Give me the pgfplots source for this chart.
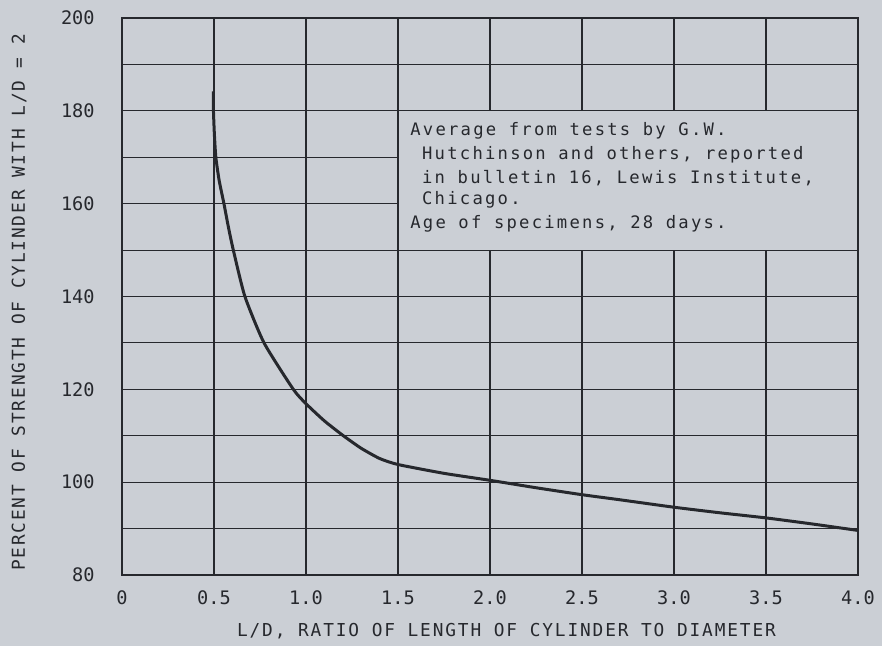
\documentclass[border=0pt]{standalone}
\usepackage{fontspec}
\setmainfont{DejaVu Sans Mono}
\newfontfamily\tickfont{DejaVu Sans Mono}
\newfontfamily\labfont[LetterSpace=10.5]{DejaVu Sans Mono}
\newfontfamily\boxfont[LetterSpace=13]{DejaVu Sans Mono}
\usepackage{pgfplots}
\pgfplotsset{compat=1.18}
\usetikzlibrary{backgrounds}
\definecolor{bg}{RGB}{203,207,213}
\definecolor{ink}{RGB}{38,40,45}
\begin{document}
\begin{tikzpicture}
\begin{axis}[
  name=ax,
  scale only axis,
  width=368pt, height=278.5pt,
  xmin=0, xmax=4, ymin=80, ymax=200,
  clip=false,
  xtick={0,0.5,1,1.5,2,2.5,3,3.5,4},
  xticklabels={0,0.5,1.0,1.5,2.0,2.5,3.0,3.5,4.0},
  ytick={80,90,100,110,120,130,140,150,160,170,180,190,200},
  yticklabels={80,,100,,120,,140,,160,,180,,200},
  grid=major,
  major grid style={ink, line width=0.55pt},
  major tick length=0pt,
  axis line style={ink, line width=1.1pt},
  tick label style={font=\tickfont\fontsize{9.3}{11}\selectfont, text=ink, inner sep=0pt},
  xticklabel style={anchor=base, yshift=-15pt},
  yticklabel style={anchor=east, xshift=-13.5pt},
]
\addplot[ink, line width=1.5pt, smooth, tension=0.35] coordinates {
  (0.496,184.2) (0.497,180) (0.502,175) (0.510,170) (0.528,165) (0.554,160)
  (0.578,155) (0.605,150) (0.668,140) (0.772,130) (0.931,120)
  (1.0,116.9) (1.1,113.2) (1.203,110) (1.30,107.3) (1.40,105.1)
  (1.5,103.8) (1.75,101.9) (2.0,100.4) (2.25,98.8) (2.5,97.3)
  (2.707,96.2) (3.0,94.6) (3.25,93.4) (3.5,92.3) (3.75,91.0) (4.0,89.6)
};
\coordinate (b1) at (axis cs:1.5,150);
\coordinate (b2) at (axis cs:4.0,180);
\coordinate (t1) at (axis cs:1.565,174.58);
\coordinate (t2) at (axis cs:1.629,169.41);
\coordinate (t3) at (axis cs:1.629,164.45);
\coordinate (t4) at (axis cs:1.629,159.72);
\coordinate (t5) at (axis cs:1.565,154.55);
\node[anchor=base, rotate=90, inner sep=0pt, text=ink, font=\labfont\fontsize{8.9}{10}\selectfont]
  at ([xshift=-48.5pt, yshift=-3pt]rel axis cs:0,0.5) {PERCENT OF STRENGTH OF CYLINDER WITH L/D = 2};
\node[anchor=base, inner sep=0pt, text=ink, font=\labfont\fontsize{8.9}{10}\selectfont]
  at ([yshift=-31pt]rel axis cs:0.5224,0) {L/D, RATIO OF LENGTH OF CYLINDER TO DIAMETER};
\end{axis}
\fill[bg] (b1) rectangle (b2);
\draw[ink, line width=0.55pt] (b1) rectangle (b2);
\draw[ink, line width=1.1pt] (b1 -| ax.east) -- (b2 -| ax.east);
\begin{scope}[every node/.style={anchor=base west, inner sep=0pt, text=ink, font=\boxfont\fontsize{8.6}{10}\selectfont}]
\node at (t1) {Average from tests by G.W.};
\node at (t2) {Hutchinson and others, reported};
\node at (t3) {in bulletin 16, Lewis Institute,};
\node at (t4) {Chicago.};
\node at (t5) {Age of specimens, 28 days.};
\end{scope}
\begin{scope}[on background layer]
\fill[bg] ([xshift=-61pt,yshift=-35.5pt]ax.south west) rectangle ([xshift=12pt,yshift=9pt]ax.north east);
\end{scope}
\end{tikzpicture}
\end{document}
